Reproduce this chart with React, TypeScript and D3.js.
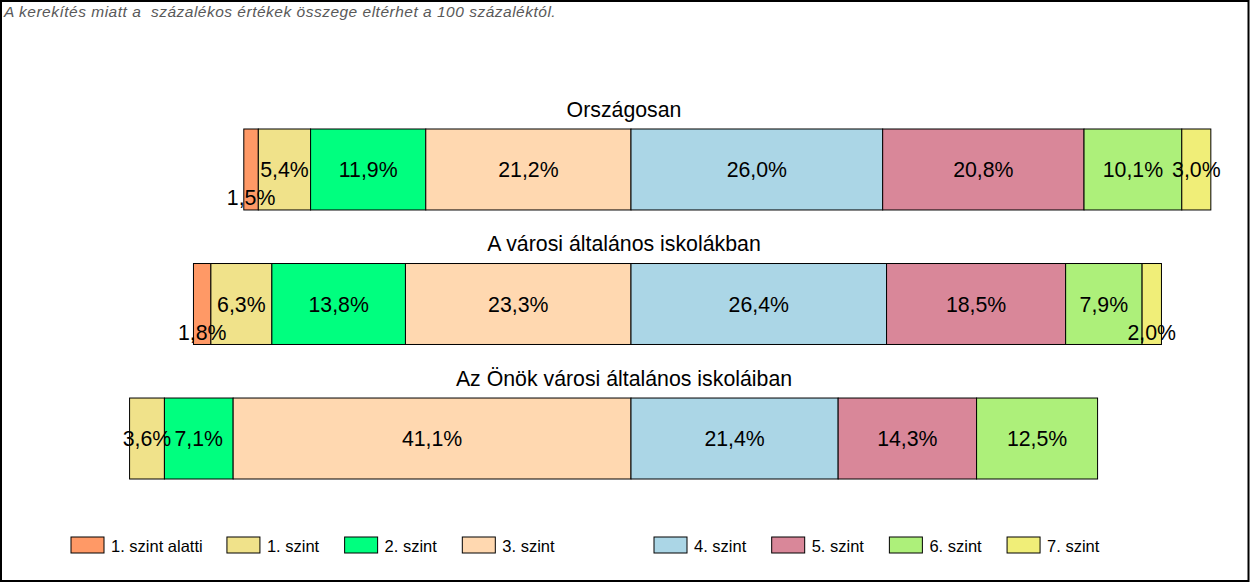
import React from "react";
import * as d3 from "d3";

const levels = ["1. szint alatti", "1. szint", "2. szint", "3. szint", "4. szint", "5. szint", "6. szint", "7. szint"];
const groups = ["Országosan", "A városi általános iskolákban", "Az Önök városi általános iskoláiban"];
const orszagosan = [1.5, 5.4, 11.9, 21.2, 26.0, 20.8, 10.1, 3.0];
const varosi = [1.8, 6.3, 13.8, 23.3, 26.4, 18.5, 7.9, 2.0];
const onok = [0, 3.6, 7.1, 41.1, 21.4, 14.3, 12.5, 0];
const colors = ["#FF9966", "#F0E28A", "#00FF7F", "#FFD8B0", "#ABD6E6", "#D98799", "#ADF07A", "#F0EE78"];
const note = "A kerekítés miatt a  százalékos értékek összege eltérhet a 100 százaléktól.";

const W = 1250;
const H = 583;
const FONT = "Arial, 'Liberation Sans', sans-serif";

function measure(text: string, font: string): number {
  const c = document.createElement("canvas");
  const ctx = c.getContext("2d");
  if (!ctx) return text.length * 8;
  ctx.font = font;
  return ctx.measureText(text).width;
}

export default function App() {
  const series = [orszagosan, varosi, onok];
  const x = d3.scaleLinear().domain([-60, 60]).range([631 - 60 * 9.68, 631 + 60 * 9.68]);
  const y = d3.scaleBand<string>().domain(groups).range([129, 479]).paddingInner(0.398).paddingOuter(0);
  const bw = y.bandwidth();
  const fmt = (v: number) => v.toFixed(1).replace(".", ",") + "%";

  // legend layout: left half (below level 4) and right half (from level 4)
  const legendFont = `16px ${FONT}`;
  let lx = 71;
  const legendItems = levels.map((l, i) => {
    if (i === 4) lx = x(0) + 23;
    const item = { label: l, x: lx, color: colors[i] };
    lx += 40 + measure(l, legendFont) + 27;
    return item;
  });

  return (
    <svg width={W} height={H} style={{ position: "absolute", left: 0, top: 0, background: "#fff" }} fontFamily={FONT}>
      <rect x={1} y={1} width={W - 2.5} height={H - 3} fill="#fff" stroke="#000" strokeWidth={2} />
      <text x={4} y={17} fontSize={15.5} fontStyle="italic" fill="#595959" letterSpacing={0.5} style={{ whiteSpace: "pre" }}>
        {note}
      </text>
      {groups.map((g, gi) => {
        const vals = series[gi];
        const leftSum = vals.slice(0, 4).reduce((a, b) => a + b, 0);
        let cum = -leftSum;
        const y0 = y(g) as number;
        const segs = vals.map((v, i) => {
          const s = { v, i, x0: x(cum), x1: x(cum + v) };
          cum += v;
          return s;
        });
        return (
          <g key={g}>
            <text x={624} y={y0 - 12.5} fontSize={21.3} textAnchor="middle" fill="#000">
              {g}
            </text>
            {segs.filter((s) => s.v > 0).map((s) => (
              <rect key={s.i} x={s.x0} y={y0} width={s.x1 - s.x0} height={bw} fill={colors[s.i]} stroke="#000" strokeWidth={1} />
            ))}
            {segs.filter((s) => s.v > 0).map((s) => (
              <text
                key={"t" + s.i}
                x={(s.x0 + s.x1) / 2}
                y={y0 + bw / 2 + (s.v < 2.5 ? 28 : 0)}
                dy="0.36em"
                fontSize={21.3}
                textAnchor="middle"
                fill="#000"
              >
                {fmt(s.v)}
              </text>
            ))}
          </g>
        );
      })}
      {legendItems.map((it) => (
        <g key={it.label}>
          <rect x={it.x} y={537} width={33} height={16} fill={it.color} stroke="#000" strokeWidth={1} />
          <text x={it.x + 40} y={551.5} fontSize={16.5} fill="#000">
            {it.label}
          </text>
        </g>
      ))}
    </svg>
  );
}
